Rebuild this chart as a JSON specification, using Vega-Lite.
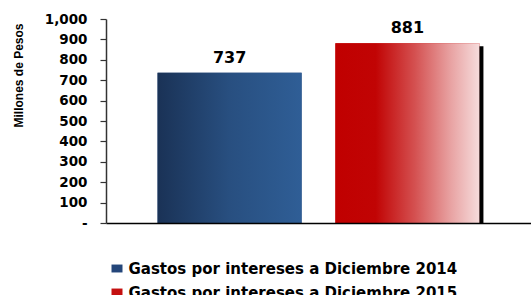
{
  "$schema": "https://vega.github.io/schema/vega-lite/v6.json",
  "width": 425,
  "height": 204,
  "autosize": {"type": "none"},
  "padding": {"left": 106, "top": 19, "right": 0, "bottom": 72},
  "background": "white",
  "config": {"view": {"stroke": null}},
  "data": {
    "values": [
      {"serie": "Gastos por intereses a Diciembre 2014", "valor": 737},
      {"serie": "Gastos por intereses a Diciembre 2015", "valor": 881}
    ]
  },
  "encoding": {
    "x": {
      "field": "serie",
      "type": "nominal",
      "sort": null,
      "scale": {"paddingInner": 0.19, "paddingOuter": 0.29},
      "axis": {"title": null, "labels": false, "ticks": false, "domainColor": "#000000", "domainWidth": 1.5, "zindex": 1}
    },
    "y": {
      "field": "valor",
      "type": "quantitative",
      "scale": {"domain": [0, 1000], "nice": false},
      "axis": {
        "title": "Millones de Pesos",
        "titleFont": "Liberation Sans",
        "titleFontSize": 12,
        "titleFontWeight": "bold",
        "titleColor": "#000000",
        "titleX": -88,
        "titleY": 56,
        "titleAlign": "center",
        "titleBaseline": "middle",
        "titleAngle": -90,
        "values": [0, 100, 200, 300, 400, 500, 600, 700, 800, 900, 1000],
        "labelExpr": "datum.value == 0 ? '-' : format(datum.value, ',')",
        "labelFont": "DejaVu Sans",
        "labelFontSize": 13.5,
        "labelFontWeight": "bold",
        "labelColor": "#000000",
        "labelPadding": 13,
        "tickSize": 6,
        "tickColor": "#333333",
        "tickWidth": 1.2,
        "domainColor": "#333333",
        "domainWidth": 1.5,
        "grid": false,
        "zindex": 1
      }
    }
  },
  "layer": [
    {
      "mark": {"type": "bar"},
      "encoding": {
        "color": {
          "field": "serie",
          "type": "nominal",
          "scale": {"range": ["#24467a", "#c41010"]},
          "legend": {
            "title": null,
            "orient": "none",
            "legendX": 3.5,
            "legendY": 242,
            "direction": "vertical",
            "padding": 0,
            "rowPadding": 8,
            "symbolType": "M-1,-0.72H1V0.72H-1Z",
            "symbolSize": 121,
            "symbolStrokeWidth": 0,
            "labelOffset": 4,
            "labelFont": "DejaVu Sans",
            "labelFontSize": 15,
            "labelFontWeight": "bold",
            "labelColor": "#000000",
            "labelLimit": 500
          }
        }
      }
    },
    {
      "mark": {"type": "bar"},
      "encoding": {
        "fill": {
          "condition": {
            "test": "indexof(datum.serie, '2014') >= 0",
            "value": {"gradient": "linear", "x1": 0, "y1": 0, "x2": 1, "y2": 0, "stops": [{"offset": 0, "color": "#1a3256"}, {"offset": 0.5, "color": "#284f80"}, {"offset": 1, "color": "#2f5e96"}]}
          },
          "value": {"gradient": "linear", "x1": 0, "y1": 0, "x2": 1, "y2": 0, "stops": [{"offset": 0, "color": "#c00000"}, {"offset": 0.28, "color": "#c10404"}, {"offset": 0.55, "color": "#d45050"}, {"offset": 0.8, "color": "#e8a2a2"}, {"offset": 1, "color": "#f6dcdc"}]}
        }
      }
    },
    {
      "transform": [{"filter": "indexof(datum.serie, '2015') >= 0"}],
      "mark": {"type": "rule", "color": "#000000", "strokeWidth": 4, "xOffset": 2, "yOffset": 3, "y2Offset": 0},
      "encoding": {
        "x": {"field": "serie", "type": "nominal", "sort": null, "bandPosition": 1},
        "y2": {"datum": 0}
      }
    },
    {
      "mark": {"type": "text", "font": "DejaVu Sans", "fontSize": 16, "fontWeight": "bold", "color": "#000000", "baseline": "alphabetic", "dy": -10},
      "encoding": {
        "text": {"field": "valor", "type": "quantitative"}
      }
    }
  ]
}
